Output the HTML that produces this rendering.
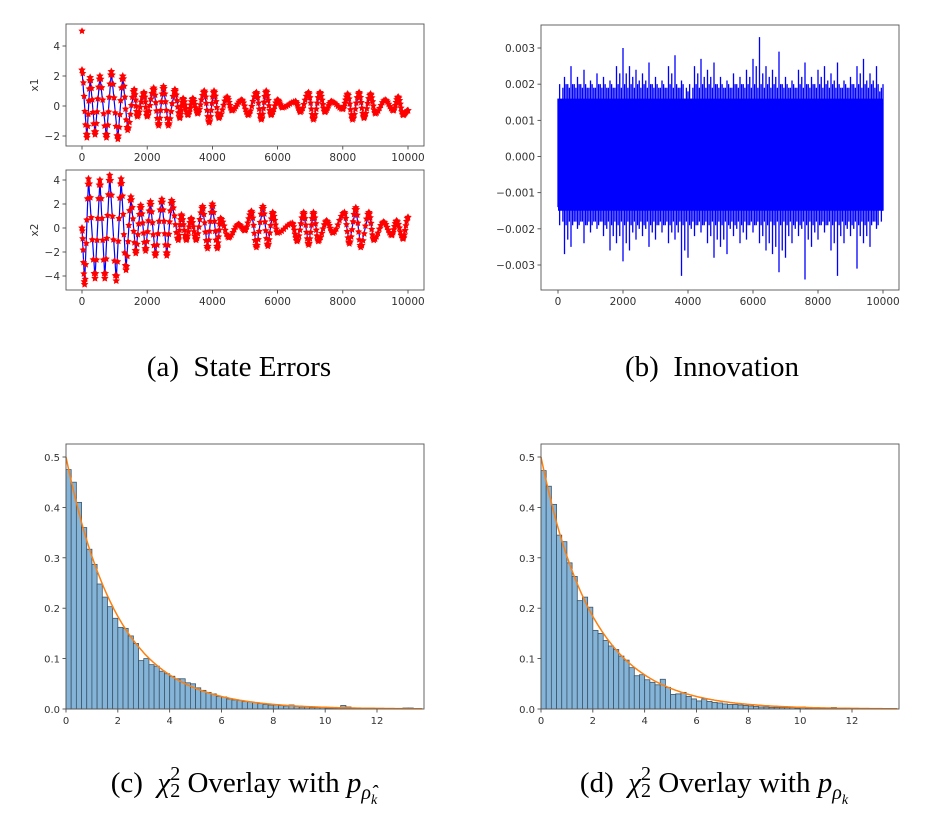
<!DOCTYPE html>
<html><head><meta charset="utf-8"><style>
body{margin:0;background:#fff;width:943px;height:826px;overflow:hidden}
svg{position:absolute;left:0;top:0}
.cap{position:absolute;font-family:"Liberation Serif",serif;font-size:29px;color:#000;white-space:nowrap;transform:translateX(-50%)}
.ss{display:inline-block;vertical-align:-0.25em;font-size:20px;line-height:0.85;text-align:left}
.ss span{display:block}
</style></head><body>
<svg id="fig" width="943" height="826"></svg>
<div class="cap" style="left:239px;top:351px">(a)&nbsp; State Errors</div>
<div class="cap" style="left:712px;top:351px">(b)&nbsp; Innovation</div>
<div class="cap" style="left:244px;top:766px">(c)&nbsp; <i>χ</i><span class="ss"><span>2</span><span>2</span></span> Overlay with <i>p</i><sub style="font-size:20px"><i>ρ̂<sub style="font-size:14px">k</sub></i></sub></div>
<div class="cap" style="left:714px;top:766px">(d)&nbsp; <i>χ</i><span class="ss"><span>2</span><span>2</span></span> Overlay with <i>p</i><sub style="font-size:20px"><i>ρ<sub style="font-size:14px">k</sub></i></sub></div>
<script>
// ---- data ----
const x1Times=[0,150,250,400,550,750,900,1100,1250,1400,1600,1700,1900,2000,2200,2350,2500,2650,2850,3000,3100,3250,3400,3550,3750,3900,4050,4200,4450,4600,4900,5100,5350,5500,5650,5800,6000,6150,6550,6700,6950,7100,7300,7450,7650,8000,8150,8300,8500,8650,8850,9000,9300,9550,9700,9850,10000];
const x1Values=[2.4,-2.1,1.9,-1.9,2.0,-2.1,2.3,-2.2,2.0,-1.6,1.1,-0.7,0.9,-0.7,1.2,-1.3,1.3,-1.3,1.1,-0.8,0.5,-0.6,0.5,-0.5,1.0,-1.1,1.0,-0.8,0.6,-0.3,0.4,-0.6,0.9,-0.9,1.0,-0.6,0.4,-0.1,0.3,-0.4,0.9,-0.9,0.9,-0.4,0.3,-0.2,0.8,-0.9,0.9,-0.8,0.8,-0.5,0.4,-0.3,0.6,-0.6,-0.3];
const x1Initial=5;
const x2Times=[0,80,200,400,550,700,850,1050,1200,1350,1500,1650,1800,1950,2100,2250,2450,2600,2750,2950,3050,3200,3350,3500,3700,3850,4000,4150,4250,4500,4800,5000,5200,5350,5550,5700,5850,6000,6450,6600,6800,6950,7100,7250,7500,7700,8050,8200,8400,8550,8800,8950,9250,9500,9650,9850,10000];
const x2Values=[0,-4.7,4.1,-4.2,4.0,-4.2,4.4,-4.4,4.1,-3.5,2.6,-2.1,1.9,-1.9,2.2,-2.3,2.4,-2.3,2.3,-1.0,1.1,-1.0,0.8,-1.0,1.8,-1.7,2.0,-1.7,0.8,-0.8,0.3,-0.2,1.4,-1.6,1.8,-1.5,1.3,-0.4,0.4,-1.1,1.3,-1.4,1.3,-1.1,0.6,-0.4,1.3,-1.3,1.7,-1.6,1.3,-1.0,0.5,-0.6,0.6,-0.9,0.9];
const innovUpper=[0.0016,0.0022,0.0025,0.0022,0.0024,0.0021,0.0023,0.0022,0.0021,0.0025,0.003,0.0025,0.0024,0.0023,0.0026,0.0022,0.0021,0.0025,0.0028,0.0021,0.0018,0.0025,0.0027,0.0024,0.0026,0.0022,0.0021,0.0023,0.0022,0.0024,0.0027,0.0033,0.0025,0.0024,0.0029,0.0022,0.0021,0.0024,0.0026,0.0022,0.0024,0.0025,0.0023,0.0026,0.0021,0.0022,0.0025,0.0027,0.0023,0.0025,0.002];
const innovLower=[-0.0014,-0.0027,-0.0025,-0.002,-0.0024,-0.0021,-0.002,-0.0022,-0.0026,-0.0024,-0.0029,-0.0026,-0.0023,-0.0022,-0.0025,-0.0023,-0.0021,-0.0024,-0.0023,-0.0033,-0.0028,-0.0022,-0.0021,-0.0024,-0.0028,-0.0025,-0.0027,-0.0022,-0.0024,-0.0023,-0.0021,-0.0024,-0.0026,-0.0027,-0.0032,-0.0028,-0.0024,-0.0022,-0.0034,-0.0025,-0.0023,-0.0021,-0.0026,-0.0033,-0.0024,-0.0022,-0.0031,-0.0024,-0.0025,-0.002,-0.0015];
const innovCoreHigh=0.0016;
const innovCoreLow=-0.0015;
const innovStep=200;
const binWidth=0.2;
const histC=[0.475,0.45,0.41,0.36,0.317,0.287,0.248,0.222,0.203,0.18,0.162,0.16,0.145,0.13,0.096,0.1,0.088,0.085,0.075,0.07,0.065,0.06,0.06,0.052,0.05,0.042,0.037,0.033,0.03,0.025,0.024,0.02,0.018,0.017,0.015,0.014,0.013,0.011,0.009,0.008,0.008,0.007,0.006,0.008,0.005,0.004,0.004,0.003,0.003,0.003,0.002,0.002,0.002,0.007,0.004,0.001,0.001,0.002,0.001,0.001,0,0,0,0,0,0.002,0.002];
const histD=[0.473,0.442,0.406,0.345,0.332,0.29,0.263,0.215,0.222,0.202,0.156,0.15,0.136,0.125,0.118,0.105,0.097,0.082,0.066,0.068,0.058,0.053,0.048,0.059,0.043,0.029,0.03,0.033,0.025,0.02,0.016,0.02,0.015,0.013,0.012,0.01,0.009,0.009,0.008,0.007,0.006,0.005,0.004,0.004,0.003,0.003,0.003,0.003,0.003,0.002,0.004,0.002,0.002,0.001,0.001,0.001,0.003,0.001,0.001,0,0,0,0,0,0,0,0];
const timeTicks=[0,2000,4000,6000,8000,10000];
const x1Ticks=[-2,0,2,4];
const x2Ticks=[-4,-2,0,2,4];
const innovTicks=[-0.003,-0.002,-0.001,0,0.001,0.002,0.003];
const histXTicks=[0,2,4,6,8,10,12];
const histYTicks=[0,0.1,0.2,0.3,0.4,0.5];

const NS="http://www.w3.org/2000/svg";
const fig=document.getElementById('fig');
function el(tag,attrs,parent,text){const e=document.createElementNS(NS,tag);for(const k in attrs)e.setAttribute(k,attrs[k]);if(text!==undefined)e.textContent=text;(parent||fig).appendChild(e);return e;}
function lin(d0,d1,r0,r1){return v=>r0+(v-d0)*(r1-r0)/(d1-d0);}
function axes(name,L,T,R,B,sx,sy,xt,yt,fx,fy,fs){
  const g=el('g',{});
  
  
  xt.forEach(v=>{const x=sx(v);el('line',{x1:x,x2:x,y1:B,y2:B+3.5,stroke:'#333','stroke-width':0.8},g);
    const t=el('text',{x:x,y:B+15,'font-family':'DejaVu Sans,Liberation Sans,sans-serif','font-size':fs,'text-anchor':'middle',fill:'#333'},g,fx(v));
    
    });
  yt.forEach(v=>{const y=sy(v);el('line',{x1:L-3.5,x2:L,y1:y,y2:y,stroke:'#333','stroke-width':0.8},g);
    const t=el('text',{x:L-6,y:y+4,'font-family':'DejaVu Sans,Liberation Sans,sans-serif','font-size':fs,'text-anchor':'end',fill:'#333'},g,fy(v));
    
    });
  el('rect',{x:L,y:T,width:R-L,height:B-T,fill:'none',stroke:'#555','stroke-width':0.9},g);
  return g;
}
function star(g,x,y,r){let p='';for(let i=0;i<10;i++){const a=-Math.PI/2+i*Math.PI/5;const rr=i%2?r*0.5:r;p+=(i?'L':'M')+(x+rr*Math.cos(a)).toFixed(1)+' '+(y+rr*Math.sin(a)).toFixed(1);}el('path',{d:p+'Z',fill:'red'},g);}

// ---- panel a ----
function statePanel(name,times,vals,T,B,y0,ppu,ticks,label,extra){
  const sx=lin(0,10000,82,408), sy=v=>y0-v*ppu;
  const g=el('g',{});
  
  
  const pts=times.map((t,i)=>sx(t)+','+sy(vals[i])).join(' ');
  el('polyline',{points:pts,fill:'none',stroke:'blue','stroke-width':1.2},g);
  times.forEach((t,i)=>{star(g,sx(t),sy(vals[i]),4);
    if(i>0){const t0=times[i-1],v0=vals[i-1];const n=7;
      for(let k=1;k<n;k++){const f=(1-Math.cos(Math.PI*k/n))/2;
        star(g,sx(t0+(t-t0)*k/n),sy(v0+(vals[i]-v0)*f),3.8);}}});
  if(extra!==undefined)star(g,sx(0),sy(extra),3.8);
  axes(name+'-axes',66,T,424,B,sx,sy,timeTicks,ticks,v=>v,v=>(v<0?'−':'')+Math.abs(v),10.5);
  const yl=el('text',{x:38,y:(T+B)/2,'font-family':'DejaVu Sans,Liberation Sans,sans-serif','font-size':10.5,'text-anchor':'middle',fill:'#333',transform:`rotate(-90 38 ${(T+B)/2})`},fig,label);
  
  
}
statePanel('x1-plot',x1Times,x1Values,24,146,106,15,x1Ticks,'x1',x1Initial);
statePanel('x2-plot',x2Times,x2Values,170,290,228,12,x2Ticks,'x2');

// ---- panel b ----
(function(){
  const sx=lin(0,10000,558,883), sy=lin(0,0.003,156.5,48);
  const g=el('g',{});
  
  
  el('rect',{x:sx(0),y:sy(innovCoreHigh),width:sx(10000)-sx(0),height:sy(innovCoreLow)-sy(innovCoreHigh),fill:'blue'},g);
  innovUpper.forEach((v,i)=>{
    const x=sx(i*innovStep);
    el('line',{x1:x,x2:x,y1:sy(v),y2:sy(innovLower[i]),stroke:'blue','stroke-width':1.3},g);
    if(i<innovUpper.length-1){
      const xm=sx((i+0.5)*innovStep);
      const vu=Math.min(v,innovUpper[i+1])-0.0002, vl=Math.max(innovLower[i],innovLower[i+1])+0.0002;
      el('line',{x1:xm,x2:xm,y1:sy(vu),y2:sy(vl),stroke:'blue','stroke-width':1.3},g);
      const xq=sx((i+0.25)*innovStep), xr=sx((i+0.75)*innovStep);
      el('line',{x1:xq,x2:xq,y1:sy(innovCoreHigh+0.0004),y2:sy(innovCoreLow-0.0004),stroke:'blue','stroke-width':1.3},g);
      el('line',{x1:xr,x2:xr,y1:sy(innovCoreHigh+0.0003),y2:sy(innovCoreLow-0.0003),stroke:'blue','stroke-width':1.3},g);
    }
  });
  axes('innovation-axes',541,25,899,290,sx,sy,timeTicks,innovTicks,v=>v,v=>(v<0?'−':'')+Math.abs(v).toFixed(3),10.5);
})();

// ---- panels c, d ----
function hist(name,vals,L){
  const sx=lin(0,12,L,L+311), sy=lin(0,0.5,709,457);
  const g=el('g',{});
  
  
  vals.forEach((v,i)=>{if(v<=0)return;const x0=sx(i*binWidth),x1=sx((i+1)*binWidth);
    const r=el('rect',{x:x0,y:sy(v),width:x1-x0,height:709-sy(v),fill:'#85b4d9',stroke:'#3d5566','stroke-width':0.8},g);
    
    });
  let p='';for(let x=0;x<=13.8;x+=0.05)p+=(p?' ':'')+sx(x).toFixed(1)+','+sy(0.5*Math.exp(-x/2)).toFixed(1);
  const c=el('polyline',{points:p,fill:'none',stroke:'#ff7f0e','stroke-width':1.5},g);
  
  
  axes(name+'-axes',L,444,L+358,709,sx,sy,histXTicks,histYTicks,v=>v,v=>v.toFixed(1),10);
}
hist('histogram-c',histC,66);
hist('histogram-d',histD,541);
</script>
</body></html>
